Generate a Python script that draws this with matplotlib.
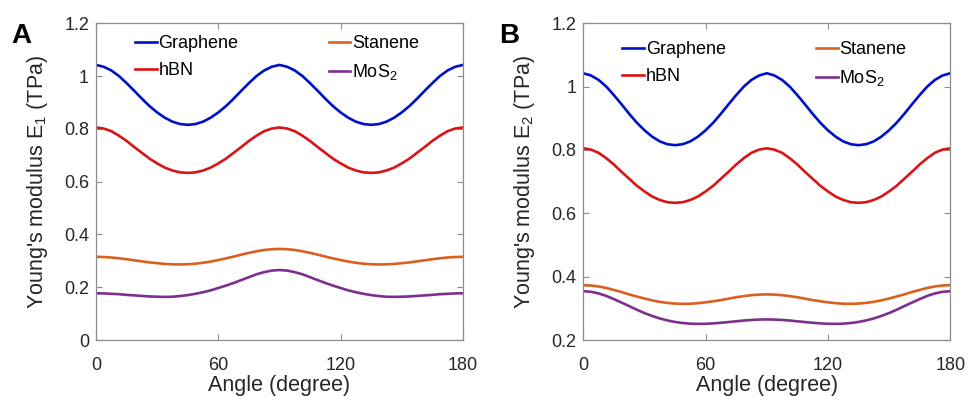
import matplotlib
matplotlib.use("Agg")
import matplotlib.pyplot as plt
from matplotlib.ticker import FuncFormatter

plt.rcParams['font.family'] = ['Liberation Sans', 'DejaVu Sans']
plt.rcParams['mathtext.fontset'] = 'custom'
plt.rcParams['mathtext.rm'] = 'Liberation Sans'
plt.rcParams['mathtext.it'] = 'Liberation Sans:italic'

# angle grid, 3.75 degree step
angles = [0, 3.75, 7.5, 11.25, 15, 18.75, 22.5, 26.25, 30, 33.75, 37.5, 41.25, 45,
          48.75, 52.5, 56.25, 60, 63.75, 67.5, 71.25, 75, 78.75, 82.5, 86.25, 90,
          93.75, 97.5, 101.25, 105, 108.75, 112.5, 116.25, 120, 123.75, 127.5, 131.25, 135,
          138.75, 142.5, 146.25, 150, 153.75, 157.5, 161.25, 165, 168.75, 172.5, 176.25, 180]

# panel A: E1 (TPa)
graphene_e1 = [1.042, 1.035, 1.021, 1.000, 0.973, 0.944, 0.914, 0.886, 0.862, 0.842, 0.827, 0.818, 0.815,
               0.818, 0.827, 0.842, 0.862, 0.886, 0.914, 0.944, 0.973, 1.000, 1.021, 1.035, 1.042,
               1.035, 1.021, 1.000, 0.973, 0.944, 0.914, 0.886, 0.862, 0.842, 0.827, 0.818, 0.815,
               0.818, 0.827, 0.842, 0.862, 0.886, 0.914, 0.944, 0.973, 1.000, 1.021, 1.035, 1.042]
hbn_e1 = [0.805, 0.801, 0.791, 0.774, 0.754, 0.731, 0.709, 0.687, 0.669, 0.653, 0.642, 0.635, 0.633,
          0.635, 0.642, 0.653, 0.669, 0.687, 0.709, 0.731, 0.754, 0.774, 0.791, 0.801, 0.805,
          0.801, 0.791, 0.774, 0.754, 0.731, 0.709, 0.687, 0.669, 0.653, 0.642, 0.635, 0.633,
          0.635, 0.642, 0.653, 0.669, 0.687, 0.709, 0.731, 0.754, 0.774, 0.791, 0.801, 0.805]
stanene_e1 = [0.315, 0.3143, 0.3125, 0.3096, 0.306, 0.3019, 0.298, 0.2939, 0.291, 0.2881, 0.2865, 0.2861, 0.287,
              0.2891, 0.2925, 0.2971, 0.303, 0.3092, 0.316, 0.3233, 0.330, 0.3361, 0.341, 0.3439, 0.345,
              0.3439, 0.341, 0.3361, 0.330, 0.3233, 0.316, 0.3092, 0.303, 0.2971, 0.2925, 0.2891, 0.287,
              0.2861, 0.2865, 0.2881, 0.291, 0.2939, 0.298, 0.3019, 0.306, 0.3096, 0.3125, 0.3143, 0.315]
mos2_e1 = [0.177, 0.1766, 0.175, 0.1736, 0.171, 0.169, 0.167, 0.165, 0.164, 0.1633, 0.1638, 0.1665, 0.170,
           0.175, 0.181, 0.188, 0.197, 0.206, 0.216, 0.227, 0.238, 0.249, 0.257, 0.263, 0.265,
           0.263, 0.257, 0.249, 0.238, 0.227, 0.216, 0.206, 0.197, 0.188, 0.181, 0.175, 0.170,
           0.1665, 0.1638, 0.1633, 0.164, 0.165, 0.167, 0.169, 0.171, 0.1736, 0.175, 0.1766, 0.177]

# panel B: E2 (TPa)
graphene_e2 = [1.042, 1.035, 1.021, 1.000, 0.973, 0.944, 0.914, 0.886, 0.862, 0.842, 0.827, 0.818, 0.815,
               0.818, 0.827, 0.842, 0.862, 0.886, 0.914, 0.944, 0.973, 1.000, 1.021, 1.035, 1.042,
               1.035, 1.021, 1.000, 0.973, 0.944, 0.914, 0.886, 0.862, 0.842, 0.827, 0.818, 0.815,
               0.818, 0.827, 0.842, 0.862, 0.886, 0.914, 0.944, 0.973, 1.000, 1.021, 1.035, 1.042]
hbn_e2 = [0.805, 0.801, 0.791, 0.774, 0.754, 0.731, 0.709, 0.687, 0.669, 0.653, 0.642, 0.635, 0.633,
          0.635, 0.642, 0.653, 0.669, 0.687, 0.709, 0.731, 0.754, 0.774, 0.791, 0.801, 0.805,
          0.801, 0.791, 0.774, 0.754, 0.731, 0.709, 0.687, 0.669, 0.653, 0.642, 0.635, 0.633,
          0.635, 0.642, 0.653, 0.669, 0.687, 0.709, 0.731, 0.754, 0.774, 0.791, 0.801, 0.805]
stanene_e2 = [0.373, 0.372, 0.369, 0.3643, 0.358, 0.3515, 0.344, 0.3373, 0.331, 0.3251, 0.3205, 0.3171, 0.315,
              0.3142, 0.3146, 0.3163, 0.319, 0.3223, 0.326, 0.3306, 0.335, 0.3385, 0.3415, 0.3433, 0.344,
              0.3433, 0.3415, 0.3385, 0.335, 0.3306, 0.326, 0.3223, 0.319, 0.3163, 0.3146, 0.3142, 0.315,
              0.3171, 0.3205, 0.3251, 0.331, 0.3373, 0.344, 0.3515, 0.358, 0.3643, 0.369, 0.372, 0.373]
mos2_e2 = [0.354, 0.3522, 0.347, 0.3392, 0.329, 0.3182, 0.307, 0.2956, 0.285, 0.276, 0.268, 0.2618, 0.257,
           0.2536, 0.2516, 0.2509, 0.2512, 0.2525, 0.2544, 0.2567, 0.259, 0.2615, 0.2633, 0.2645, 0.265,
           0.2645, 0.2633, 0.2615, 0.259, 0.2567, 0.2544, 0.2525, 0.2512, 0.2509, 0.2516, 0.2536, 0.257,
           0.2618, 0.268, 0.276, 0.285, 0.2956, 0.307, 0.3182, 0.329, 0.3392, 0.347, 0.3522, 0.354]

materials = ["Graphene", "hBN", "Stanene", "MoS$_2$"]
colors = ["#0010c8", "#d81414", "#d9601f", "#7e2f8e"]

fig = plt.figure(figsize=(9.68, 3.96), dpi=100)
axA = fig.add_axes([0.0992, 0.1414, 0.379, 0.80])
axB = fig.add_axes([0.6026, 0.1414, 0.379, 0.80])

panels = [
    (axA, [graphene_e1, hbn_e1, stanene_e1, mos2_e1], (0, 1.2), "Young's modulus E$_1$ (TPa)", "A", 0.962),
    (axB, [graphene_e2, hbn_e2, stanene_e2, mos2_e2], (0.2, 1.2), "Young's modulus E$_2$ (TPa)", "B", 0.943),
]

fmt = FuncFormatter(lambda v, p: f"{v:g}")

for ax, series, ylim, ylab, tag, legy in panels:
    for vals, name, c in zip(series, materials, colors):
        ax.plot(angles, vals, color=c, lw=1.9, label=name)
    ax.set_xlim(0, 180)
    ax.set_ylim(*ylim)
    ax.set_xticks([0, 60, 120, 180])
    ax.set_yticks([round(ylim[0] + 0.2 * i, 1) for i in range(int(round((ylim[1] - ylim[0]) / 0.2)) + 1)])
    ax.yaxis.set_major_formatter(fmt)
    ax.tick_params(direction='in', length=4, width=0.8, color='#8c8c8c',
                   labelsize=13, labelcolor='#262626', top=True, right=True)
    ax.tick_params(axis='x', pad=12)
    ax.tick_params(axis='y', pad=5)
    for s in ax.spines.values():
        s.set_color('#8c8c8c')
        s.set_linewidth(0.9)
    ax.set_xlabel("Angle (degree)", fontsize=15.5, color='#262626', labelpad=1)
    ax.set_ylabel(ylab, fontsize=15.5, color='#262626', labelpad=10)
    ax.legend(ncol=2, frameon=False, loc='upper left', bbox_to_anchor=(0.106, legy),
              borderpad=0, borderaxespad=0, handlelength=1.2, handletextpad=0.1,
              columnspacing=5.0, labelspacing=0.55, fontsize=13)
    ax.text(-0.23, 1.0, tag, transform=ax.transAxes, fontsize=20, fontweight='bold',
            ha='left', va='top')

fig.savefig("out.png", dpi=100)
